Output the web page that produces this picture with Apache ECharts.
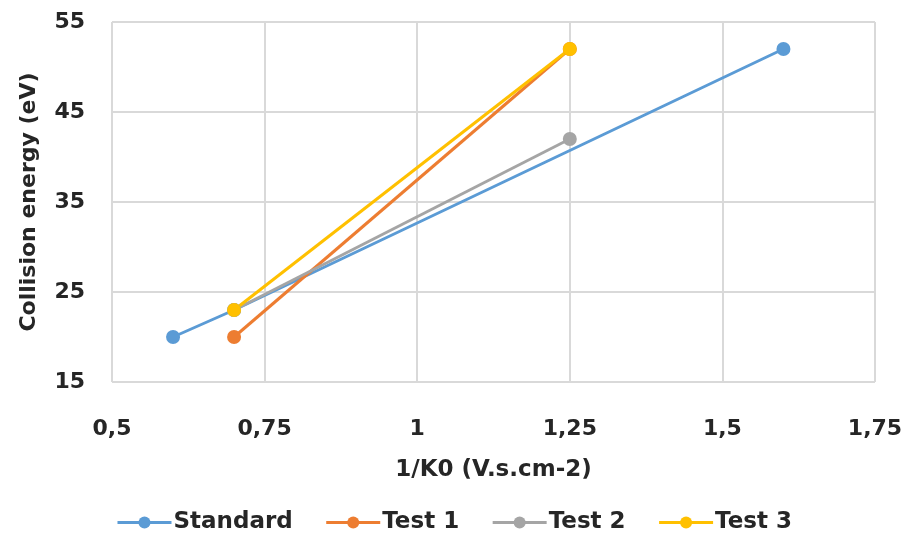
<!DOCTYPE html>
<html><head><meta charset="utf-8">
<script src="https://cdn.jsdelivr.net/npm/echarts@6/dist/echarts.min.js"></script>
<style>html,body{margin:0;padding:0;background:#fff}#c{width:908px;height:541px}</style>
</head><body><div id="c"></div>
<script>
const seriesNames = ['Standard', 'Test 1', 'Test 2', 'Test 3'];
const standardData = [[0.6, 20], [0.7, 23], [1.6, 52]];
const test1Data = [[0.7, 20], [1.25, 52]];
const test2Data = [[0.7, 23], [1.25, 42]];
const test3Data = [[0.7, 23], [1.25, 52]];
const colors = ['#5B9BD5', '#ED7D31', '#A5A5A5', '#FFC000'];
const xTitle = '1/K0 (V.s.cm-2)';
const yTitle = 'Collision energy (eV)';

const font = '"DejaVu Sans", sans-serif';
const fs = 22;
const fsT = 23;
const chart = echarts.init(document.getElementById('c'));
const allData = [standardData, test1Data, test2Data, test3Data];
chart.setOption({
  animation: false,
  grid: {left: 112, right: 33, top: 22, bottom: 159},
  color: colors,
  legend: {
    bottom: 2, left: 'center', itemWidth: 54, itemHeight: 15, itemGap: 32,
    lineStyle: {width: 3},
    textStyle: {fontFamily: font, fontSize: fsT, fontWeight: 'bold', color: '#262626', padding: [0, 0, 0, -3]},
    data: seriesNames
  },
  xAxis: {
    type: 'value', min: 0.5, max: 1.75, interval: 0.25,
    name: xTitle, nameLocation: 'middle', nameGap: 77,
    nameTextStyle: {fontFamily: font, fontSize: fsT, fontWeight: 'bold', color: '#262626'},
    axisLine: {show: false}, axisTick: {show: false},
    axisLabel: {margin: 36, fontFamily: font, fontSize: fs, fontWeight: 'bold', color: '#262626',
      formatter: v => String(v).replace('.', ',')},
    splitLine: {show: true, lineStyle: {color: '#d9d9d9', width: 2}}
  },
  yAxis: {
    type: 'value', min: 15, max: 55, interval: 10,
    name: yTitle, nameLocation: 'middle', nameGap: 72,
    nameTextStyle: {fontFamily: font, fontSize: fsT - 1, fontWeight: 'bold', color: '#262626'},
    axisLine: {show: false}, axisTick: {show: false},
    axisLabel: {margin: 27, fontFamily: font, fontSize: fs, fontWeight: 'bold', color: '#262626'},
    splitLine: {show: true, lineStyle: {color: '#d9d9d9', width: 2}}
  },
  series: seriesNames.map((n, i) => ({
    name: n, type: 'line', data: allData[i],
    symbol: 'circle', symbolSize: 14,
    lineStyle: {width: 3, color: colors[i]},
    itemStyle: {color: colors[i]}
  }))
});
</script></body></html>
